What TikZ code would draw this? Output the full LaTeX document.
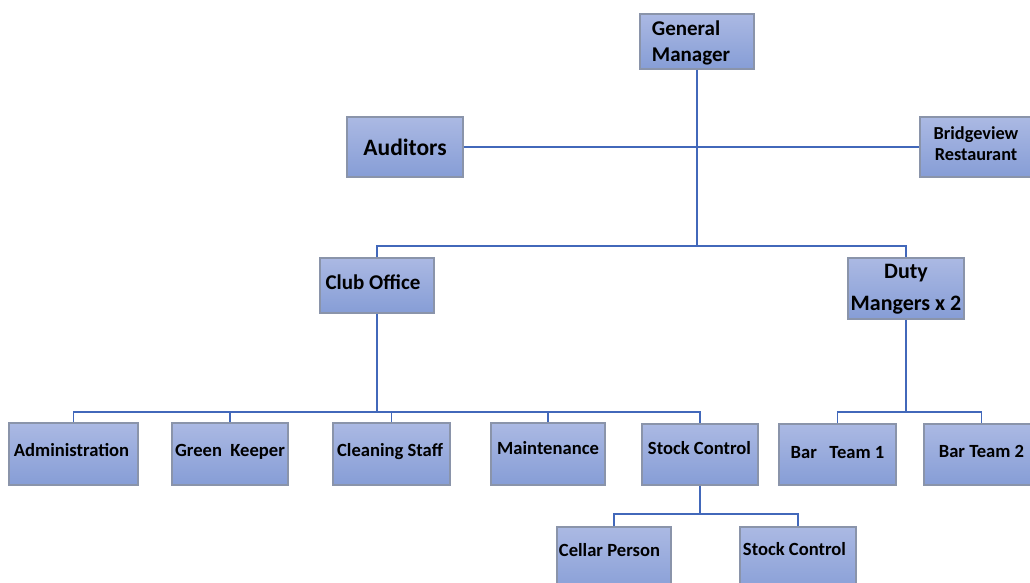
\documentclass[tikz,border=0pt]{standalone}
\usepackage{fontspec}
\setmainfont{Carlito}
\definecolor{boxtop}{RGB}{171,185,227}
\definecolor{boxbot}{RGB}{134,157,214}
\definecolor{boxline}{RGB}{138,148,170}
\definecolor{connc}{RGB}{66,104,186}
\begin{document}
\begin{tikzpicture}[x=1pt,y=-1pt,
  box/.style={draw=boxline, line width=1.1pt, top color=boxtop, bottom color=boxbot,
    inner sep=0pt, align=center, font=\bfseries\fontsize{18.6}{22}\selectfont},
  sbox/.style={box, anchor=base},
  bigtxt/.style={font=\bfseries\fontsize{21}{26}\selectfont},
  conn/.style={draw=connc, line width=1.4pt}]
\useasboundingbox (0,0) rectangle (1030,582);
\clip (0,0) rectangle (1030,582);
% top level
\node[box, minimum width=114pt, minimum height=55pt,
  label={[bigtxt, align=left, xshift=-6pt, yshift=-1pt]center:General\\Manager}] (gm) at (697,41.5) {};
\node[sbox, font=\bfseries\fontsize{23.5}{28}\selectfont, minimum width=116pt, text height=38pt, text depth=22pt] (aud) at (405,155) {Auditors};
\node[box, minimum width=112pt, minimum height=60pt,
  label={[font=\bfseries\fontsize{18.3}{21}\selectfont, align=center, yshift=3pt]center:Bridgeview\\Restaurant}] (bv) at (976,147) {};
% second level
\node[sbox, bigtxt, minimum width=114pt, text height=31.1pt, text depth=23.9pt] (club) at (377,289.1) {Club Office\kern8pt};
\node[box, minimum width=116pt, minimum height=61pt,
  label={[font=\bfseries\fontsize{22}{32}\selectfont, align=center, yshift=-1pt]center:Duty\\Mangers x 2}] (duty) at (906,288.5) {};
% third level
\node[sbox, minimum width=129pt, text height=33.3pt, text depth=28.7pt] (admin) at (73.5,456.3) {Administration\kern4pt};
\node[sbox, minimum width=116pt, text height=33.3pt, text depth=28.7pt] (gk) at (230,456.3) {Green\ \ Keeper};
\node[sbox, minimum width=117pt, text height=33.3pt, text depth=28.7pt] (cs) at (391.5,456.3) {Cleaning Staff\kern3pt};
\node[sbox, minimum width=114pt, text height=31.3pt, text depth=30.7pt] (mt) at (548,454.3) {Maintenance};
\node[sbox, minimum width=116pt, text height=30.3pt, text depth=30.7pt] (sc) at (700,454.3) {Stock Control\kern1pt};
\node[sbox, minimum width=117pt, text height=34.3pt, text depth=26.7pt] (bt1) at (837.5,458.3) {Bar\ \ \ Team 1};
\node[sbox, minimum width=115pt, text height=33.3pt, text depth=27.7pt] (bt2) at (981.5,457.3) {Bar Team 2};
% fourth level
\node[sbox, minimum width=114pt, text height=29.3pt, text depth=39.7pt] (cp) at (614,556.3) {Cellar Person\kern9pt};
\node[sbox, minimum width=116pt, text height=28.3pt, text depth=40.7pt] (sc2) at (798,555.3) {Stock Control\kern7pt};
% junctions
\coordinate (jtop) at (697,246);
\coordinate (jclub) at (377,412);
\coordinate (jduty) at (906,412);
\coordinate (jsc) at (700,514);
% connectors
\draw[conn] (aud.east) -- (aud.east -| bv.west);
\draw[conn] (gm.south) -- (jtop);
\draw[conn] (club.north) |- (jtop) -| (duty.north);
\draw[conn] (club.south) -- (jclub);
\draw[conn] (admin.north) |- (jclub) -| (sc.north);
\draw[conn] (gk.north) -- (gk.north |- jclub);
\draw[conn] (cs.north) -- (cs.north |- jclub);
\draw[conn] (mt.north) -- (mt.north |- jclub);
\draw[conn] (duty.south) -- (jduty);
\draw[conn] (bt1.north) |- (jduty) -| (bt2.north);
\draw[conn] (sc.south) -- (jsc);
\draw[conn] (cp.north) |- (jsc) -| (sc2.north);
\end{tikzpicture}
\end{document}
